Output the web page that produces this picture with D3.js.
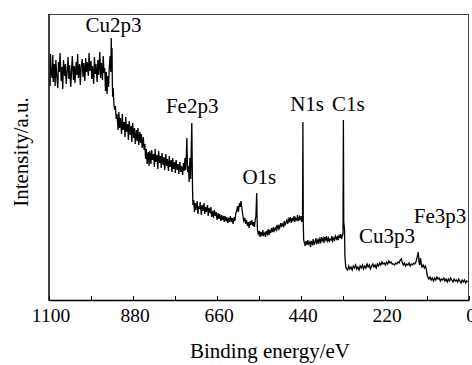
<!DOCTYPE html>
<html>
<head>
<meta charset="utf-8">
<script src="https://cdn.jsdelivr.net/npm/d3@7"></script>
<style>
  body { margin: 0; background: #fff; }
</style>
</head>
<body>
<div id="chart"></div>
<script>
// XPS survey spectrum, [binding energy (eV), intensity (a.u.)]
const spectrum = [
  [1097, 214], [1096, 246], [1095, 232], [1092, 222], [1090, 245], [1089, 218], [1086, 236], [1084, 214], [1082, 240], [1080, 226],
  [1077, 212], [1075, 238], [1073, 228], [1071, 247], [1068, 219], [1066, 233], [1064, 211], [1062, 240], [1059, 224], [1057, 236],
  [1055, 216], [1052, 231], [1050, 243], [1048, 221], [1046, 235], [1043, 213], [1041, 229], [1039, 244], [1036, 220], [1034, 234],
  [1032, 217], [1029, 238], [1027, 225], [1025, 246], [1023, 222], [1020, 236], [1018, 215], [1016, 232], [1013, 241], [1011, 223],
  [1009, 237], [1006, 219], [1004, 242], [1002, 228], [1000, 238], [997, 224], [995, 247], [993, 229], [990, 239], [988, 221],
  [986, 234], [983, 216], [981, 243], [979, 226], [977, 236], [974, 218], [972, 240], [970, 225], [967, 248], [965, 222],
  [963, 237], [960, 220], [958, 244], [956, 227], [954, 232], [952, 209], [950, 228], [948, 206], [946, 224], [944, 213],
  [942, 233], [940, 244], [938, 228], [937, 262], [936, 236], [935, 252], [934, 214], [933, 203], [932, 212], [930, 196],
  [928, 190], [926, 194], [924, 181], [922, 186], [919, 170], [917, 188], [915, 172], [913, 182], [910, 166], [908, 186],
  [906, 170], [903, 178], [901, 163], [899, 183], [897, 168], [894, 176], [892, 160], [890, 179], [887, 165], [885, 174],
  [883, 158], [881, 177], [878, 162], [876, 172], [874, 156], [871, 170], [869, 159], [867, 172], [865, 155], [862, 168],
  [860, 157], [858, 166], [856, 152], [853, 163], [851, 150], [849, 156], [847, 141], [845, 151], [843, 136], [840, 148],
  [838, 134], [836, 149], [833, 136], [831, 150], [829, 140], [826, 146], [824, 133], [822, 151], [820, 138], [817, 145],
  [815, 131], [813, 149], [810, 137], [808, 144], [806, 132], [804, 147], [801, 135], [799, 143], [797, 130], [794, 146],
  [792, 134], [790, 141], [787, 129], [785, 144], [783, 133], [780, 140], [778, 128], [776, 142], [774, 131], [771, 138],
  [769, 127], [767, 140], [764, 130], [762, 136], [760, 126], [757, 138], [755, 128], [753, 134], [750, 125], [748, 137],
  [746, 129], [744, 142], [742, 130], [740, 148], [739, 162], [737, 128], [735, 134], [733, 118], [731, 142], [729, 121],
  [727, 158], [726, 177], [725, 140], [724, 110], [723, 95], [721, 100], [719, 88], [717, 97], [715, 90], [712, 99],
  [710, 86], [708, 94], [706, 91], [704, 98], [701, 85], [699, 95], [697, 89], [694, 97], [692, 86], [690, 93],
  [688, 88], [685, 95], [683, 84], [681, 92], [678, 87], [676, 93], [674, 83], [671, 89], [669, 82], [667, 90],
  [664, 84], [662, 88], [660, 80], [657, 87], [655, 81], [653, 86], [650, 79], [648, 85], [646, 80], [643, 84],
  [641, 78], [639, 84], [636, 79], [634, 83], [632, 77], [629, 82], [627, 78], [625, 84], [622, 78], [620, 82],
  [618, 76], [615, 83], [613, 79], [611, 86], [608, 90], [606, 94], [604, 88], [601, 97], [599, 93], [597, 99],
  [594, 89], [592, 84], [590, 79], [587, 82], [585, 76], [583, 80], [580, 74], [578, 78], [576, 72], [573, 79],
  [571, 75], [569, 80], [566, 74], [564, 78], [562, 73], [560, 80], [558, 84], [557, 96], [556, 107], [555, 82],
  [554, 70], [552, 66], [549, 69], [547, 63], [545, 68], [542, 64], [540, 70], [538, 65], [535, 67], [533, 63],
  [531, 69], [528, 66], [526, 71], [524, 65], [521, 70], [519, 67], [517, 72], [514, 68], [512, 73], [510, 69],
  [507, 72], [505, 70], [503, 75], [500, 71], [498, 74], [496, 72], [493, 77], [491, 73], [489, 76], [486, 74],
  [484, 79], [482, 75], [479, 78], [477, 80], [475, 76], [472, 81], [470, 79], [468, 83], [465, 77], [463, 82],
  [461, 79], [458, 84], [456, 78], [454, 82], [451, 80], [449, 85], [447, 79], [444, 83], [442, 80], [440, 84],
  [438, 78], [436, 82], [435, 178], [434, 76], [433, 60], [431, 57], [429, 54], [427, 59], [424, 55], [422, 60],
  [420, 56], [417, 58], [415, 53], [413, 59], [410, 56], [408, 61], [406, 55], [403, 58], [401, 62], [399, 57],
  [396, 60], [394, 56], [392, 61], [389, 58], [387, 63], [385, 59], [382, 62], [380, 57], [378, 63], [375, 60],
  [373, 64], [371, 59], [368, 62], [366, 58], [364, 61], [361, 60], [359, 64], [357, 59], [354, 62], [352, 60],
  [350, 64], [347, 61], [345, 63], [343, 60], [340, 65], [338, 62], [336, 66], [334, 61], [332, 64], [330, 66],
  [329, 180], [328, 78], [326, 70], [325, 44], [323, 34], [321, 31], [318, 30], [315, 34], [312, 31], [309, 33],
  [306, 30], [303, 34], [300, 32], [297, 35], [294, 31], [291, 33], [288, 30], [285, 34], [282, 32], [279, 35],
  [276, 31], [273, 34], [270, 32], [267, 36], [264, 33], [261, 35], [258, 31], [255, 34], [252, 36], [249, 33],
  [246, 35], [243, 32], [240, 36], [237, 34], [234, 37], [231, 35], [228, 38], [225, 36], [222, 37], [219, 35],
  [216, 38], [213, 36], [210, 39], [207, 37], [204, 38], [201, 36], [198, 36], [195, 35], [192, 37], [189, 36],
  [186, 38], [183, 37], [180, 40], [177, 41], [175, 38], [172, 35], [169, 37], [166, 34], [163, 36], [160, 35],
  [157, 37], [154, 34], [151, 36], [148, 35], [145, 37], [142, 36], [139, 38], [137, 41], [135, 44], [133, 48],
  [132, 44], [131, 38], [129, 35], [127, 42], [125, 36], [123, 33], [120, 35], [117, 32], [114, 34], [112, 31],
  [110, 26], [108, 23], [105, 21], [102, 23], [99, 20], [96, 22], [93, 19], [90, 22], [87, 20], [84, 23],
  [81, 21], [78, 22], [75, 19], [72, 21], [69, 20], [66, 22], [63, 19], [60, 21], [57, 18], [54, 21],
  [51, 19], [48, 22], [45, 20], [42, 18], [39, 21], [36, 19], [33, 20], [30, 18], [27, 21], [24, 19],
  [21, 17], [18, 20], [15, 18], [12, 20], [9, 17], [6, 19], [4, 18]
];

const tickEnergies = [1100, 990, 880, 770, 660, 550, 440, 330, 220, 110, 0];
const labelEnergies = [1100, 880, 660, 440, 220, 0];

// peak labels: [text, centre energy (eV), baseline intensity (a.u.)]
const peakLabels = [
  ["Cu2p3", 931, 268],
  ["Fe2p3", 725, 187],
  ["O1s", 549, 116],
  ["N1s", 424, 189],
  ["C1s", 316, 189],
  ["Cu3p3", 215, 57],
  ["Fe3p3", 76, 77]
];

const serif = '"Liberation Serif"';

const width = 472;
const height = 365;
const margin = { top: 14, right: 3, bottom: 65, left: 49 };

const svg = d3.select('#chart').append('svg')
  .attr('width', width)
  .attr('height', height);

svg.append('rect')
  .attr('width', width)
  .attr('height', height)
  .attr('fill', '#fff');

const xScale = d3.scaleLinear()
  .domain([1100, 0])
  .range([margin.left, width - margin.right]);

const yScale = d3.scaleLinear()
  .domain([0, 286])
  .range([height - margin.bottom, margin.top]);

const plotBottom = height - margin.bottom;

// frame: top and right thin grey
svg.append('line')
  .attr('x1', margin.left).attr('x2', width - margin.right)
  .attr('y1', margin.top + 0.5).attr('y2', margin.top + 0.5)
  .attr('stroke', '#444').attr('stroke-width', 1);
svg.append('line')
  .attr('x1', width - margin.right - 0.5).attr('x2', width - margin.right - 0.5)
  .attr('y1', margin.top).attr('y2', plotBottom)
  .attr('stroke', '#444').attr('stroke-width', 1);

// spectrum line
const line = d3.line()
  .x(d => xScale(d[0]))
  .y(d => yScale(d[1]));

svg.append('path')
  .datum(spectrum)
  .attr('fill', 'none')
  .attr('stroke', '#000')
  .attr('stroke-width', 1.3)
  .attr('d', line);

// x axis with inward ticks
const xAxis = d3.axisBottom(xScale)
  .tickValues(tickEnergies)
  .tickSize(-4)
  .tickSizeOuter(0)
  .tickFormat(d => labelEnergies.includes(d) ? d : '');

const gx = svg.append('g')
  .attr('transform', `translate(0, ${plotBottom})`)
  .call(xAxis);

gx.select('.domain').attr('stroke', '#000').attr('stroke-width', 1.5);
gx.selectAll('.tick line').attr('stroke', '#000').attr('stroke-width', 1);
gx.selectAll('.tick text')
  .attr('y', 22)
  .attr('dy', 0)
  .attr('dx', 1.5)
  .attr('fill', '#000')
  .style('font-family', serif)
  .style('font-size', '19.5px');

// left axis line
svg.append('line')
  .attr('x1', margin.left).attr('x2', margin.left)
  .attr('y1', margin.top).attr('y2', plotBottom + 0.75)
  .attr('stroke', '#000').attr('stroke-width', 1.5);

// peak labels
svg.selectAll('.peak-label')
  .data(peakLabels)
  .enter()
  .append('text')
  .attr('class', 'peak-label')
  .attr('x', d => xScale(d[1]))
  .attr('y', d => yScale(d[2]))
  .attr('text-anchor', 'middle')
  .style('font-family', serif)
  .style('font-size', '21px')
  .text(d => d[0]);

// axis titles
svg.append('text')
  .attr('x', 270)
  .attr('y', 358)
  .attr('text-anchor', 'middle')
  .style('font-family', serif)
  .style('font-size', '21px')
  .text('Binding energy/eV');

svg.append('text')
  .attr('transform', 'rotate(-90)')
  .attr('x', -152)
  .attr('y', 28)
  .attr('text-anchor', 'middle')
  .style('font-family', serif)
  .style('font-size', '21px')
  .text('Intensity/a.u.');
</script>
</body>
</html>
